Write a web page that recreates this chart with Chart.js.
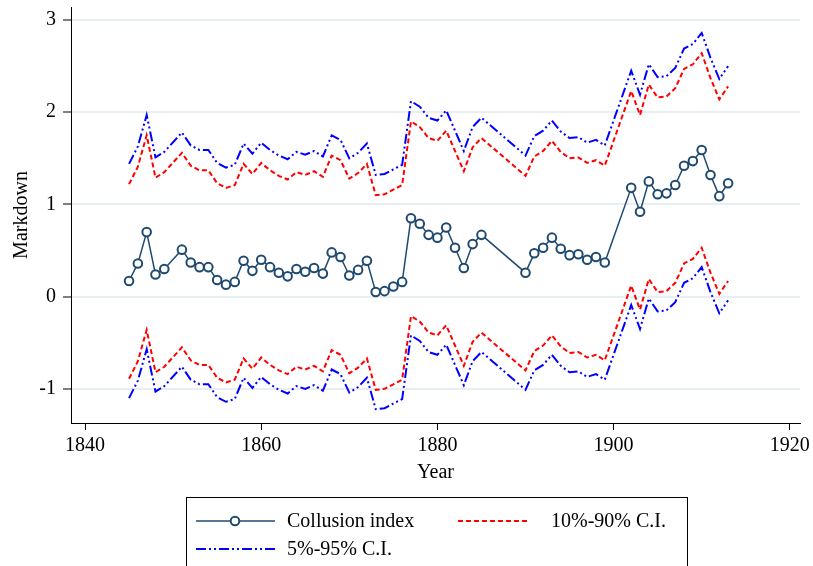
<!DOCTYPE html>
<html>
<head>
<meta charset="utf-8">
<script src="https://cdn.jsdelivr.net/npm/chart.js@4/dist/chart.umd.min.js"></script>
<style>
  html, body { margin: 0; padding: 0; background: #fff; }
</style>
</head>
<body>
<canvas id="markdownChart" width="813" height="566"></canvas>
<script>
// Years with observations (1850, 1886-1889, 1900-1901 missing)
const years = [
  1845, 1846, 1847, 1848, 1849,
  1851, 1852, 1853, 1854, 1855, 1856, 1857, 1858, 1859, 1860,
  1861, 1862, 1863, 1864, 1865, 1866, 1867, 1868, 1869, 1870,
  1871, 1872, 1873, 1874, 1875, 1876, 1877, 1878, 1879, 1880,
  1881, 1882, 1883, 1884, 1885,
  1890, 1891, 1892, 1893, 1894, 1895, 1896, 1897, 1898, 1899,
  1902, 1903, 1904, 1905, 1906, 1907, 1908, 1909, 1910, 1911, 1912, 1913
];

const collusion = [
  0.17, 0.36, 0.70, 0.24, 0.30,
  0.51, 0.37, 0.32, 0.32, 0.18, 0.13, 0.16, 0.39, 0.28, 0.40,
  0.32, 0.26, 0.22, 0.30, 0.27, 0.31, 0.25, 0.48, 0.43, 0.23,
  0.29, 0.39, 0.05, 0.06, 0.11, 0.16, 0.85, 0.79, 0.67, 0.64,
  0.75, 0.53, 0.31, 0.57, 0.67,
  0.26, 0.47, 0.53, 0.64, 0.52, 0.45, 0.46, 0.40, 0.43, 0.37,
  1.18, 0.92, 1.25, 1.11, 1.12, 1.21, 1.42, 1.47, 1.59, 1.32, 1.09, 1.23
];

const ci90Upper = [
  1.22, 1.41, 1.75, 1.29, 1.35,
  1.56, 1.42, 1.37, 1.37, 1.23, 1.18, 1.21, 1.44, 1.33, 1.45,
  1.37, 1.31, 1.27, 1.35, 1.32, 1.36, 1.30, 1.53, 1.48, 1.28,
  1.34, 1.44, 1.10, 1.11, 1.16, 1.21, 1.90, 1.84, 1.72, 1.69,
  1.80, 1.58, 1.36, 1.62, 1.72,
  1.31, 1.52, 1.58, 1.69, 1.57, 1.50, 1.51, 1.45, 1.48, 1.42,
  2.23, 1.97, 2.30, 2.16, 2.17, 2.26, 2.47, 2.52, 2.64, 2.37, 2.14, 2.28
];

const ci90Lower = [
  -0.89, -0.70, -0.36, -0.82, -0.76,
  -0.55, -0.69, -0.74, -0.74, -0.88, -0.93, -0.90, -0.67, -0.78, -0.66,
  -0.74, -0.80, -0.84, -0.76, -0.79, -0.75, -0.81, -0.58, -0.63, -0.83,
  -0.77, -0.67, -1.01, -1.00, -0.95, -0.90, -0.21, -0.27, -0.39, -0.42,
  -0.31, -0.53, -0.75, -0.49, -0.39,
  -0.80, -0.59, -0.53, -0.42, -0.54, -0.61, -0.60, -0.66, -0.63, -0.69,
  0.12, -0.14, 0.19, 0.05, 0.06, 0.15, 0.36, 0.41, 0.53, 0.26, 0.03, 0.17
];

const ci95Upper = [
  1.44, 1.63, 1.97, 1.51, 1.57,
  1.78, 1.64, 1.59, 1.59, 1.45, 1.40, 1.43, 1.66, 1.55, 1.67,
  1.59, 1.53, 1.49, 1.57, 1.54, 1.58, 1.52, 1.75, 1.70, 1.50,
  1.56, 1.66, 1.32, 1.33, 1.38, 1.43, 2.12, 2.06, 1.94, 1.91,
  2.02, 1.80, 1.58, 1.84, 1.94,
  1.53, 1.74, 1.80, 1.91, 1.79, 1.72, 1.73, 1.67, 1.70, 1.64,
  2.45, 2.19, 2.52, 2.38, 2.39, 2.48, 2.69, 2.74, 2.86, 2.59, 2.36, 2.50
];

const ci95Lower = [
  -1.10, -0.91, -0.57, -1.03, -0.97,
  -0.76, -0.90, -0.95, -0.95, -1.09, -1.14, -1.11, -0.88, -0.99, -0.87,
  -0.95, -1.01, -1.05, -0.97, -1.00, -0.96, -1.02, -0.79, -0.84, -1.04,
  -0.98, -0.88, -1.22, -1.21, -1.16, -1.11, -0.42, -0.48, -0.60, -0.63,
  -0.52, -0.74, -0.96, -0.70, -0.60,
  -1.01, -0.80, -0.74, -0.63, -0.75, -0.82, -0.81, -0.87, -0.84, -0.90,
  -0.09, -0.35, -0.02, -0.16, -0.15, -0.06, 0.15, 0.20, 0.32, 0.05, -0.18, -0.04
];

const xTicks = [1840, 1860, 1880, 1900, 1920];
const yTicks = [-1, 0, 1, 2, 3];

const NAVY = '#1f4a70';
const RED = '#ff0000';
const BLUE = '#0000ff';
const RED_DASH = [5, 3];
const BLUE_DASH = [10, 3, 2, 3, 2, 3];
const FONT = 'Liberation Serif';

const toPoints = vals => years.map((yr, i) => ({ x: yr, y: vals[i] }));

function ciDataset(label, vals, color, dash) {
  return {
    label: label,
    data: toPoints(vals),
    borderColor: color,
    borderWidth: 2,
    borderDash: dash,
    pointRadius: 0,
    fill: false,
    tension: 0
  };
}

// Legend drawn on the canvas in the Stata style box
const boxLegend = {
  id: 'boxLegend',
  afterDraw(chart) {
    const ctx = chart.ctx;
    ctx.save();
    ctx.strokeStyle = '#000';
    ctx.lineWidth = 1;
    ctx.strokeRect(186.5, 497.5, 501, 80);

    ctx.font = `20px "${FONT}"`;
    ctx.fillStyle = '#000';
    ctx.textBaseline = 'middle';

    // collusion index
    ctx.strokeStyle = NAVY;
    ctx.lineWidth = 1.5;
    ctx.beginPath(); ctx.moveTo(196, 521); ctx.lineTo(275, 521); ctx.stroke();
    ctx.beginPath(); ctx.arc(235, 521, 4.3, 0, Math.PI * 2);
    ctx.fillStyle = '#fff'; ctx.fill();
    ctx.lineWidth = 2; ctx.stroke();
    ctx.fillStyle = '#000';
    ctx.fillText('Collusion index', 287, 522);

    // 10-90
    ctx.strokeStyle = RED; ctx.lineWidth = 2; ctx.setLineDash(RED_DASH);
    ctx.beginPath(); ctx.moveTo(458, 521); ctx.lineTo(528, 521); ctx.stroke();
    ctx.fillText('10%-90% C.I.', 551, 522);

    // 5-95
    ctx.strokeStyle = BLUE; ctx.setLineDash(BLUE_DASH);
    ctx.beginPath(); ctx.moveTo(196, 549); ctx.lineTo(275, 549); ctx.stroke();
    ctx.setLineDash([]);
    ctx.fillText('5%-95% C.I.', 287, 550);
    ctx.restore();
  }
};

new Chart(document.getElementById('markdownChart'), {
  type: 'line',
  data: {
    datasets: [
      {
        label: 'Collusion index',
        data: toPoints(collusion),
        borderColor: NAVY,
        borderWidth: 1.5,
        pointRadius: 4.3,
        pointBorderWidth: 2,
        pointBackgroundColor: '#fff',
        pointBorderColor: NAVY,
        fill: false,
        tension: 0
      },
      ciDataset('10%-90% C.I.', ci90Upper, RED, RED_DASH),
      ciDataset('10%-90% C.I. lower', ci90Lower, RED, RED_DASH),
      ciDataset('5%-95% C.I.', ci95Upper, BLUE, BLUE_DASH),
      ciDataset('5%-95% C.I. lower', ci95Lower, BLUE, BLUE_DASH)
    ]
  },
  options: {
    responsive: false,
    animation: false,
    devicePixelRatio: 1,
    layout: { padding: { top: 7, right: 13, bottom: 69, left: 0 } },
    plugins: {
      legend: { display: false },
      tooltip: { enabled: false }
    },
    scales: {
      x: {
        type: 'linear',
        min: 1838.41,
        max: 1921.16,
        afterBuildTicks: s => { s.ticks = xTicks.map(v => ({ value: v })); },
        afterFit: s => { s.height = 74; s.paddingLeft = 0; s.paddingRight = 0; },
        ticks: {
          autoSkip: false,
          maxRotation: 0,
          padding: 4,
          color: '#000',
          font: { family: FONT, size: 20 },
          callback: v => String(v)
        },
        grid: { drawOnChartArea: false, drawTicks: true, tickLength: 7, tickColor: '#000', lineWidth: 1 },
        border: { display: true, color: '#000', width: 1 },
        title: {
          display: true,
          text: 'Year',
          color: '#000',
          font: { family: FONT, size: 20 },
          padding: { top: 0, bottom: 12 }
        }
      },
      y: {
        min: -1.37,
        max: 3.141,
        afterBuildTicks: s => { s.ticks = yTicks.map(v => ({ value: v })); },
        afterFit: s => { s.width = 71; s.paddingTop = 0; s.paddingBottom = 0; },
        ticks: {
          padding: 7,
          color: '#000',
          font: { family: FONT, size: 20 },
          callback: v => String(v)
        },
        grid: { color: '#e8eff2', lineWidth: 2, tickLength: 8, tickColor: '#000', tickWidth: 1 },
        border: { display: true, color: '#000', width: 1 },
        title: {
          display: true,
          text: 'Markdown',
          color: '#000',
          font: { family: FONT, size: 20 },
          padding: { top: 10, bottom: 0 }
        }
      }
    }
  },
  plugins: [boxLegend]
});
</script>
</body>
</html>
